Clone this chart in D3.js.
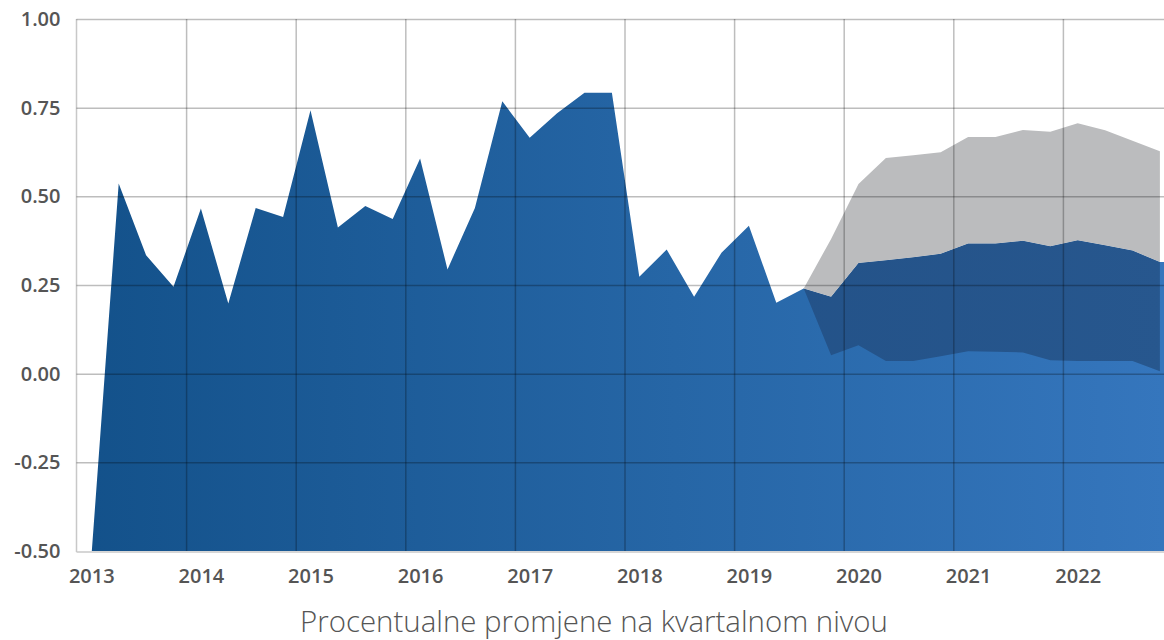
<!DOCTYPE html>
<html>
<head>
<meta charset="utf-8">
<script src="https://cdn.jsdelivr.net/npm/d3@7"></script>
<style>
  html, body { margin: 0; padding: 0; background: #ffffff; }
  svg { display: block; }
</style>
</head>
<body>
<svg id="chart" width="1164" height="640"></svg>
<script>
// ---- data ----
const startYear = 2013;
const years = [2013, 2014, 2015, 2016, 2017, 2018, 2019, 2020, 2021, 2022];
const yTicks = [-0.5, -0.25, 0, 0.25, 0.5, 0.75, 1.0];
// quarterly % change, 2013Q1 .. 2019Q3 (index 0..26)
const history = [-0.52, 0.536, 0.334, 0.245, 0.466, 0.198, 0.467, 0.442, 0.743, 0.412,
                 0.473, 0.436, 0.607, 0.294, 0.467, 0.768, 0.665, 0.734, 0.792, 0.792,
                 0.273, 0.350, 0.217, 0.341, 0.417, 0.200, 0.240];
// forecast 2019Q3 .. 2022Q4 (index 26..39)
const forecastStart = 26;
const fcLower  = [0.240, 0.052, 0.080, 0.036, 0.036, 0.049, 0.063, 0.062, 0.060, 0.038, 0.036, 0.036, 0.036, 0.007];
const fcMedian = [0.240, 0.217, 0.312, 0.320, 0.328, 0.338, 0.367, 0.367, 0.375, 0.359, 0.376, 0.362, 0.347, 0.315];
const fcUpper  = [0.240, 0.380, 0.535, 0.608, 0.616, 0.624, 0.667, 0.667, 0.687, 0.682, 0.706, 0.686, 0.657, 0.627];
const title = "Procentualne promjene na kvartalnom nivou";

// ---- layout ----
const mLeft = 76.5, mRight = 1164, mTop = 19, mBottom = 551;
const svg = d3.select("#chart");
const qPos = i => startYear + 0.135 + 0.25 * i;   // position of quarter i in years

const x = d3.scaleLinear().domain([startYear, startYear + (mRight - mLeft) / 109.6]).range([mLeft, mRight]);
const y = d3.scaleLinear().domain([-0.5, 1.0]).range([mBottom, mTop]);

const defs = svg.append("defs");
const grad = defs.append("linearGradient").attr("id", "blueGrad")
  .attr("gradientUnits", "userSpaceOnUse").attr("x1", mLeft).attr("x2", mRight).attr("y1", 0).attr("y2", 0);
grad.append("stop").attr("offset", "0%").attr("stop-color", "#13518a");
grad.append("stop").attr("offset", "55%").attr("stop-color", "#2666a6");
grad.append("stop").attr("offset", "100%").attr("stop-color", "#3576bd");
const dgrad = defs.append("linearGradient").attr("id", "darkGrad")
  .attr("gradientUnits", "userSpaceOnUse").attr("x1", mLeft).attr("x2", mRight).attr("y1", 0).attr("y2", 0);
dgrad.append("stop").attr("offset", "0%").attr("stop-color", "#1d4a7f");
dgrad.append("stop").attr("offset", "100%").attr("stop-color", "#27578e");
defs.append("clipPath").attr("id", "plotClip").append("rect")
  .attr("x", mLeft).attr("y", mTop).attr("width", mRight - mLeft).attr("height", mBottom - mTop);

// blue main area: history then forecast median, held to the right edge
const mainData = history.map((v, i) => ({ t: qPos(i), v }))
  .concat(fcMedian.slice(1).map((v, j) => ({ t: qPos(forecastStart + 1 + j), v })));
mainData.push({ t: x.domain()[1], v: fcMedian[fcMedian.length - 1] });

const fcData = fcMedian.map((m, j) => ({ t: qPos(forecastStart + j), lo: fcLower[j], mid: m, hi: fcUpper[j] }));

const g = svg.append("g").attr("clip-path", "url(#plotClip)");
g.append("path").datum(mainData)
  .attr("fill", "url(#blueGrad)")
  .attr("d", d3.area().x(d => x(d.t)).y0(y(-0.5)).y1(d => y(d.v)));
g.append("path").datum(fcData)
  .attr("fill", "url(#darkGrad)")
  .attr("d", d3.area().x(d => x(d.t)).y0(d => y(d.lo)).y1(d => y(d.mid)));
g.append("path").datum(fcData)
  .attr("fill", "#bbbcbe")
  .attr("d", d3.area().x(d => x(d.t)).y0(d => y(d.mid)).y1(d => y(d.hi)));

// axis lines (light)
svg.append("line").attr("x1", mLeft).attr("x2", mLeft).attr("y1", mTop).attr("y2", mBottom + 1)
  .attr("stroke", "#c8c8c8").attr("stroke-width", 1.5);
svg.append("line").attr("x1", mLeft).attr("x2", mRight).attr("y1", mBottom + 1).attr("y2", mBottom + 1)
  .attr("stroke", "#c8c8c8").attr("stroke-width", 1.5);

// horizontal gridlines + y labels
const yAxis = svg.append("g").attr("transform", `translate(${mLeft},0)`)
  .call(d3.axisLeft(y).tickValues(yTicks).tickFormat(d => d.toFixed(2))
        .tickSize(-(mRight - mLeft)).tickPadding(16));
yAxis.select(".domain").remove();
yAxis.selectAll(".tick line")
  .attr("stroke", d => d === -0.5 ? "none" : "rgba(0,0,0,0.26)").attr("stroke-width", 1.5);
yAxis.selectAll(".tick text")
  .attr("fill", "#555").style("font-family", "'Open Sans', sans-serif")
  .style("font-size", "20px").style("font-weight", 600);

// vertical gridlines at year starts
const xGrid = svg.append("g").attr("transform", `translate(0,${mBottom})`)
  .call(d3.axisBottom(x).tickValues(years.slice(1)).tickFormat("").tickSize(-(mBottom - mTop)));
xGrid.select(".domain").remove();
xGrid.selectAll(".tick line").attr("stroke", "rgba(0,0,0,0.26)").attr("stroke-width", 1.5);

// year labels at Q1 positions
const xLab = svg.append("g").attr("transform", `translate(0,${mBottom})`)
  .call(d3.axisBottom(x).tickValues(years.map(yr => qPos((yr - startYear) * 4)))
        .tickFormat((d, i) => String(years[i])).tickSize(0).tickPadding(18));
xLab.select(".domain").remove();
xLab.selectAll(".tick text")
  .attr("fill", "#555").style("font-family", "'Open Sans', sans-serif")
  .style("font-size", "20px").style("font-weight", 600);

// title
const tt = svg.append("text").attr("x", 594).attr("y", 632).attr("text-anchor", "middle")
  .attr("fill", "#555").style("font-family", "'Open Sans', sans-serif")
  .style("font-weight", 300).style("font-size", "27px").text(title);
const len = tt.node().getComputedTextLength();
if (len > 0) tt.style("font-size", (27 * 588 / len).toFixed(2) + "px");
</script>
</body>
</html>
